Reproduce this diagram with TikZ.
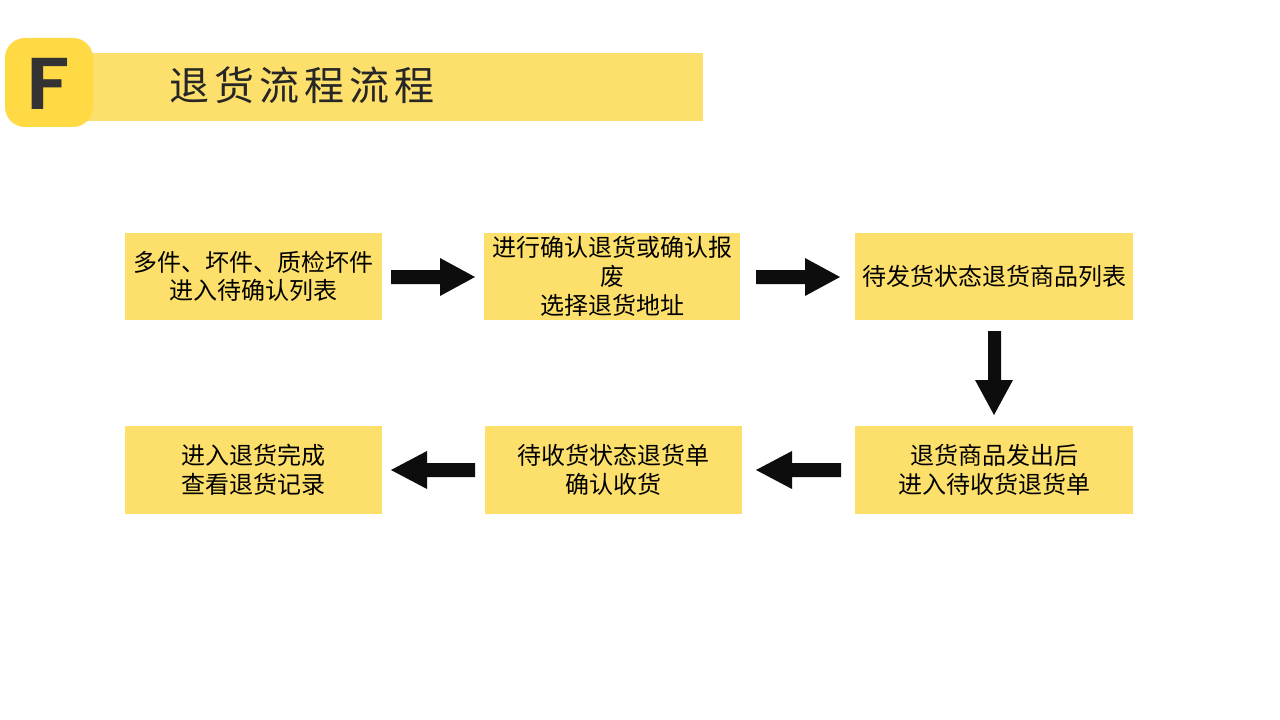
\documentclass[tikz,border=0pt]{standalone}
\usepackage{fontspec}
\newfontfamily\cjk{Noto Sans CJK SC}
\newfontfamily\titlecjk[LetterSpace=12.5]{Noto Sans CJK SC}
\newfontfamily\logofont{Poppins SemiBold}
\definecolor{boxy}{HTML}{FDE06B}
\definecolor{logoy}{HTML}{FFDA45}
\definecolor{ink}{HTML}{0D0D0D}
\tikzset{
 x=0.75pt,y=-0.75pt,
 flow/.style={draw=none,fill=boxy,inner sep=0pt,align=center,font=\cjk\fontsize{18}{21.5}\selectfont,text=black},
 arrowpoly/.style={fill=ink,draw=none}
}
\newcommand{\boxat}[6]{\node[flow,minimum width=#4*0.75pt,minimum height=#5*0.75pt,text width=#4*0.75pt-3pt] (#1) at (#2,#3) {#6};}
\begin{document}
\begin{tikzpicture}
\useasboundingbox (0,0) rectangle (1280,720);
\fill[white] (0,0) rectangle (1280,720);
\fill[boxy] (60,53) rectangle (703,121);
\fill[logoy,rounded corners=15pt] (5,38) rectangle (93,127);
\node[inner sep=0pt,text=black!80,font=\logofont\fontsize{55}{55}\selectfont,xscale=1.12,transform shape] (logo) at (48.5,84) {F};
\node[inner sep=0pt,anchor=west,text=black!85,font=\titlecjk\fontsize{30}{32}\selectfont] (title) at (169,85) {退货流程流程};
\boxat{a}{253.5}{276.5}{257}{87}{多件、坏件、质检坏件\\进入待确认列表}
\boxat{b}{612}{276.5}{256}{87}{进行确认退货或确认报\\废\\选择退货地址}
\boxat{c}{994}{276.5}{278}{87}{待发货状态退货商品列表}
\boxat{d}{994}{470}{278}{88}{退货商品发出后\\进入待收货退货单}
\boxat{e}{613.5}{470}{257}{88}{待收货状态退货单\\确认收货}
\boxat{f}{253.5}{470}{257}{88}{进入退货完成\\查看退货记录}
\fill[arrowpoly] (391,270) -- (440,270) -- (440,258) -- (475,277) -- (440,296) -- (440,284) -- (391,284) -- cycle;
\fill[arrowpoly] (756,270) -- (805,270) -- (805,258) -- (840,277) -- (805,296) -- (805,284) -- (756,284) -- cycle;
\fill[arrowpoly] (988,331) -- (1001,331) -- (1001,380) -- (1013,380) -- (994,415) -- (975,380) -- (988,380) -- cycle;
\fill[arrowpoly] (841,463) -- (792,463) -- (792,451) -- (756,470) -- (792,489) -- (792,477) -- (841,477) -- cycle;
\fill[arrowpoly] (475,463) -- (427,463) -- (427,451) -- (391,470) -- (427,489) -- (427,477) -- (475,477) -- cycle;
\end{tikzpicture}
\end{document}
